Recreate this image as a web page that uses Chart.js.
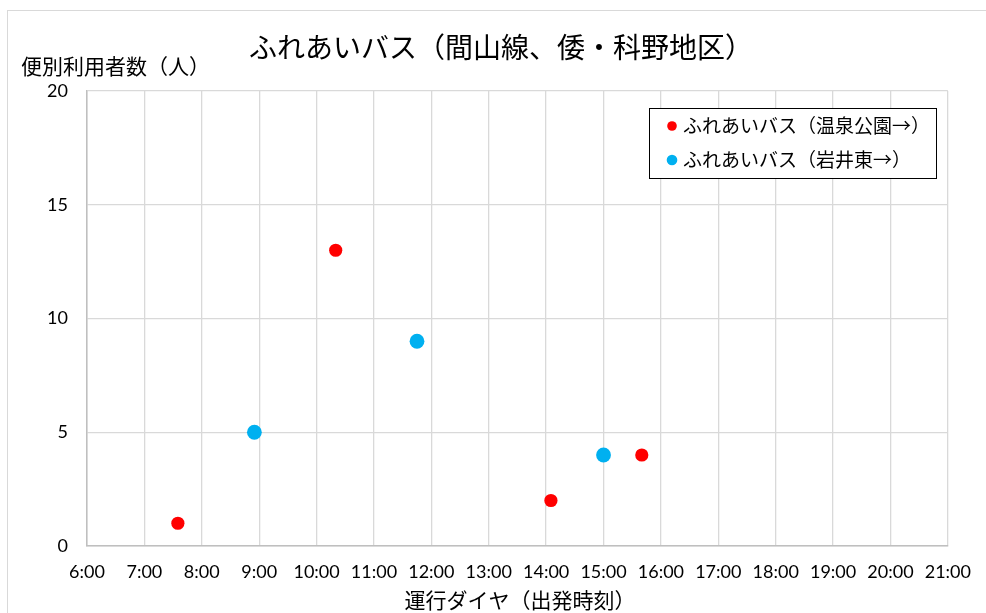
<!DOCTYPE html>
<html lang="ja">
<head>
<meta charset="utf-8">
<title>ふれあいバス（間山線、倭・科野地区）</title>
<script src="https://cdn.jsdelivr.net/npm/chart.js@4/dist/chart.umd.min.js"></script>
<style>
  html, body { margin: 0; padding: 0; background: #fff; overflow: hidden; }
  #wrap { position: relative; width: 986px; height: 613px; overflow: hidden; }
  #frame { position: absolute; left: 7px; top: 10px; width: 1100px; height: 700px;
           border: 1px solid #d9d9d9; box-sizing: border-box; }
  #c { position: absolute; left: 0; top: 0; }
</style>
</head>
<body>
<div id="wrap">
  <div id="frame"></div>
  <canvas id="c" width="986" height="613"></canvas>
</div>
<script>
// Departure times (h:mm) and riders per trip for each direction
const onsenKoenTimes  = ['7:35', '10:20', '14:05', '15:40'];
const onsenKoenRiders = [1, 13, 2, 4];
const iwaiHigashiTimes  = ['8:55', '11:45', '15:00'];
const iwaiHigashiRiders = [5, 9, 4];

const seriesNames = ['ふれあいバス（温泉公園→）', 'ふれあいバス（岩井東→）'];
const seriesColors = ['#ff0000', '#00b0f0'];

// Axis ticks
const timeTickLabels = ['6:00','7:00','8:00','9:00','10:00','11:00','12:00','13:00',
                        '14:00','15:00','16:00','17:00','18:00','19:00','20:00','21:00'];
const riderTicks = [0, 5, 10, 15, 20];

const chartTitle = 'ふれあいバス（間山線、倭・科野地区）';
const yTitle = '便別利用者数（人）';
const xTitle = '運行ダイヤ（出発時刻）';

const JP = '"Noto Sans CJK JP", "Noto Sans", sans-serif';
const NUM = 'Lato, "Liberation Sans", sans-serif';

// "h:mm" -> hours as a decimal number
function toHours(t) {
  const [h, m] = t.split(':').map(Number);
  return h + m / 60;
}
function points(times, values) {
  return times.map((t, i) => ({ x: toHours(t), y: values[i] }));
}

// Titles and the boxed legend inside the plot
const decorations = {
  id: 'decorations',
  afterDraw(chart) {
    const ctx = chart.ctx;
    ctx.save();
    ctx.fillStyle = '#000';
    ctx.textBaseline = 'middle';

    ctx.font = '28px ' + JP;
    ctx.textAlign = 'center';
    ctx.fillText(chartTitle, 501, 47);

    ctx.font = '21px ' + JP;
    ctx.textAlign = 'left';
    ctx.fillText(yTitle, 21, 66);

    ctx.textAlign = 'center';
    ctx.fillText(xTitle, 520, 600);

    // legend box
    const bx = 649.5, by = 108.5, bw = 287, bh = 70;
    ctx.fillStyle = '#fff';
    ctx.fillRect(bx, by, bw, bh);
    ctx.strokeStyle = '#000';
    ctx.lineWidth = 1;
    ctx.strokeRect(bx, by, bw, bh);
    ctx.font = '19px ' + JP;
    ctx.textAlign = 'left';
    const rows = [126, 160];
    chart.data.datasets.forEach((ds, i) => {
      ctx.fillStyle = ds.backgroundColor;
      ctx.beginPath();
      ctx.arc(672, rows[i], i === 0 ? 4.8 : 5.3, 0, Math.PI * 2);
      ctx.fill();
      ctx.fillStyle = '#000';
      ctx.fillText(ds.label, 683, rows[i]);
    });
    ctx.restore();
  }
};

function draw() {
  new Chart(document.getElementById('c'), {
    type: 'scatter',
    data: {
      datasets: [
        {
          label: seriesNames[0],
          data: points(onsenKoenTimes, onsenKoenRiders),
          backgroundColor: seriesColors[0],
          borderColor: seriesColors[0],
          pointRadius: 6.6,
          borderWidth: 0
        },
        {
          label: seriesNames[1],
          data: points(iwaiHigashiTimes, iwaiHigashiRiders),
          backgroundColor: seriesColors[1],
          borderColor: seriesColors[1],
          pointRadius: 7.4,
          borderWidth: 0
        }
      ]
    },
    options: {
      responsive: false,
      animation: false,
      devicePixelRatio: 1,
      layout: { padding: { top: 91, right: 36, left: 0, bottom: 0 } },
      plugins: {
        legend: { display: false },
        title: { display: false },
        tooltip: { enabled: false }
      },
      scales: {
        x: {
          type: 'linear',
          min: 6,
          max: 21,
          afterBuildTicks(scale) {
            scale.ticks = timeTickLabels.map((_, i) => ({ value: 6 + i }));
          },
          afterFit(scale) { scale.height = 67; },
          ticks: {
            autoSkip: false,
            maxRotation: 0,
            padding: 15,
            color: '#000',
            font: { family: NUM, size: 18 },
            callback: (v) => timeTickLabels[Math.round(v) - 6]
          },
          grid: { color: '#d9d9d9', lineWidth: 1.3, drawTicks: false },
          border: { color: '#bfbfbf', width: 1.5 }
        },
        y: {
          min: 0,
          max: 20,
          afterBuildTicks(scale) {
            scale.ticks = riderTicks.map(v => ({ value: v }));
          },
          afterFit(scale) { scale.width = 87; },
          ticks: {
            padding: 19,
            color: '#000',
            font: { family: NUM, size: 18 }
          },
          grid: { color: '#d9d9d9', lineWidth: 1.3, drawTicks: false },
          border: { color: '#bfbfbf', width: 1.5 }
        }
      }
    },
    plugins: [decorations]
  });
}

Promise.all([
  document.fonts.load('28px "Noto Sans CJK JP"', 'ふれあいバス'),
  document.fonts.load('18px Lato', '0123456789:')
]).then(draw, draw);
</script>
</body>
</html>
